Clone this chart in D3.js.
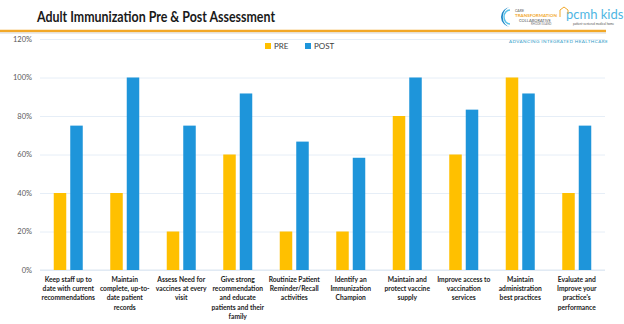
<!DOCTYPE html>
<html>
<head>
<meta charset="utf-8">
<script src="https://cdn.jsdelivr.net/npm/d3@7"></script>
<style>
  body { margin: 0; background: #fff; }
  svg { display: block; font-family: Lato, "Open Sans", sans-serif; }
</style>
</head>
<body>
<svg width="624" height="324"></svg>
<script>
const categories = [
  ["Keep staff up to", "date with current", "recommendations"],
  ["Maintain", "complete, up-to-", "date patient", "records"],
  ["Assess Need for", "vaccines at every", "visit"],
  ["Give strong", "recommendation", "and educate", "patients and their", "family"],
  ["Routinize Patient", "Reminder/Recall", "activities"],
  ["Identify an", "Immunization", "Champion"],
  ["Maintain and", "protect vaccine", "supply"],
  ["Improve access to", "vaccination", "services"],
  ["Maintain", "administration", "best practices"],
  ["Evaluate and", "Improve your", "practice's", "performance"]
];
const pre = [0.40, 0.40, 0.20, 0.60, 0.20, 0.20, 0.80, 0.60, 1.00, 0.40];
const post = [0.75, 1.00, 0.75, 0.917, 0.667, 0.583, 1.00, 0.833, 0.917, 0.75];
const yTicks = [0, 0.2, 0.4, 0.6, 0.8, 1.0, 1.2];
const seriesNames = ["PRE", "POST"];
const colors = ["#FFC000", "#1E95DA"];

const svg = d3.select("svg");

// header
svg.append("text")
  .attr("x", 37).attr("y", 22)
  .attr("font-size", 16).attr("font-weight", "bold").attr("fill", "#1a1a1a")
  .attr("textLength", 238).attr("lengthAdjust", "spacingAndGlyphs")
  .text("Adult Immunization Pre & Post Assessment");
svg.append("line").attr("x1", 0).attr("x2", 606).attr("y1", 31).attr("y2", 31)
  .attr("stroke", "#F2A828").attr("stroke-width", 2.5);
svg.append("line").attr("x1", 0).attr("x2", 606).attr("y1", 33).attr("y2", 33)
  .attr("stroke", "#d8d8d8").attr("stroke-width", 1);

// logos (approximate)
const logo = svg.append("g");
logo.append("path")
  .attr("d", "M511,7 A10,10 0 1,0 511,27 A7,8.5 0 1,1 511,7 Z")
  .attr("fill", "#1E88C8");
logo.append("path")
  .attr("d", "M510,10 A6,7 0 1,0 510,24")
  .attr("fill", "none").attr("stroke", "#58C1E8").attr("stroke-width", 1.4);
logo.append("text").attr("x", 515).attr("y", 12).attr("font-size", 3.5).attr("fill", "#555").text("CARE");
logo.append("text").attr("x", 515).attr("y", 17).attr("font-size", 4.5).attr("font-weight", "bold").attr("fill", "#F2A828").text("TRANSFORMATION");
logo.append("text").attr("x", 519).attr("y", 21.5).attr("font-size", 4).attr("fill", "#555").text("COLLABORATIVE");
logo.append("text").attr("x", 531).attr("y", 25).attr("font-size", 2.8).attr("fill", "#777").text("RHODE ISLAND");
logo.append("text").attr("x", 566).attr("y", 19).attr("font-size", 13).attr("fill", "#4FB6E3").text("pcmh kids");
logo.append("path").attr("d", "M560,17 L560,10 L564,7 L568,10 L568,14")
  .attr("fill", "none").attr("stroke", "#F2A828").attr("stroke-width", 1);
logo.append("text").attr("x", 573).attr("y", 25).attr("font-size", 3).attr("fill", "#555").text("patient-centered medical home");
svg.append("text").attr("x", 608).attr("y", 43).attr("text-anchor", "end")
  .attr("font-size", 4.6).attr("fill", "#2E9BC8").attr("letter-spacing", 0.4)
  .text("ADVANCING INTEGRATED HEALTHCARE");

// chart
const margin = {left: 40, right: 19, top: 39, bottom: 54};
const width = 624 - margin.left - margin.right;
const height = 324 - margin.top - margin.bottom;
const g = svg.append("g").attr("transform", "translate(" + margin.left + "," + margin.top + ")");

const x = d3.scaleBand().domain(d3.range(categories.length)).range([0, width]);
const y = d3.scaleLinear().domain([0, 1.2]).range([height, 0]);

g.append("g")
  .call(d3.axisLeft(y).tickValues(yTicks).tickFormat(d3.format(".0%")).tickSize(-width).tickPadding(8))
  .call(a => a.select(".domain").remove())
  .call(a => a.selectAll(".tick line").attr("stroke", "#E6EEF7"))
  .call(a => a.selectAll(".tick text").attr("fill", "#595959").attr("font-size", 7.5)
    .attr("font-family", "Lato, sans-serif"));

g.append("line").attr("x1", 0).attr("x2", width).attr("y1", y(0)).attr("y2", y(0))
  .attr("stroke", "#DCE6F1");

const barW = 12.5, gap = 4;
[pre, post].forEach((vals, s) => {
  g.selectAll(".bar" + s)
    .data(vals)
    .join("rect")
    .attr("x", (d, i) => x(i) + x.bandwidth() / 2 + (s === 0 ? -gap / 2 - barW : gap / 2))
    .attr("y", d => y(d))
    .attr("width", barW)
    .attr("height", d => y(0) - y(d))
    .attr("fill", colors[s]);
});

// category labels
const lab = g.append("g").attr("font-size", 6.7).attr("font-weight", "bold").attr("fill", "#222")
  .attr("text-anchor", "middle");
categories.forEach((lines, i) => {
  const t = lab.append("text").attr("x", x(i) + x.bandwidth() / 2).attr("y", height + 12);
  lines.forEach((l, k) => t.append("tspan").attr("x", x(i) + x.bandwidth() / 2).attr("dy", k === 0 ? 0 : 9.2).text(l));
});

// legend
const leg = svg.append("g").attr("transform", "translate(265,48)");
seriesNames.forEach((n, i) => {
  const item = leg.append("g").attr("transform", "translate(" + (i * 40) + ",0)");
  item.append("rect").attr("x", 0).attr("y", -5).attr("width", 6).attr("height", 6).attr("fill", colors[i]);
  item.append("text").attr("x", 9).attr("y", 1).attr("font-size", 8).attr("fill", "#404040").text(n);
});
</script>
</body>
</html>
